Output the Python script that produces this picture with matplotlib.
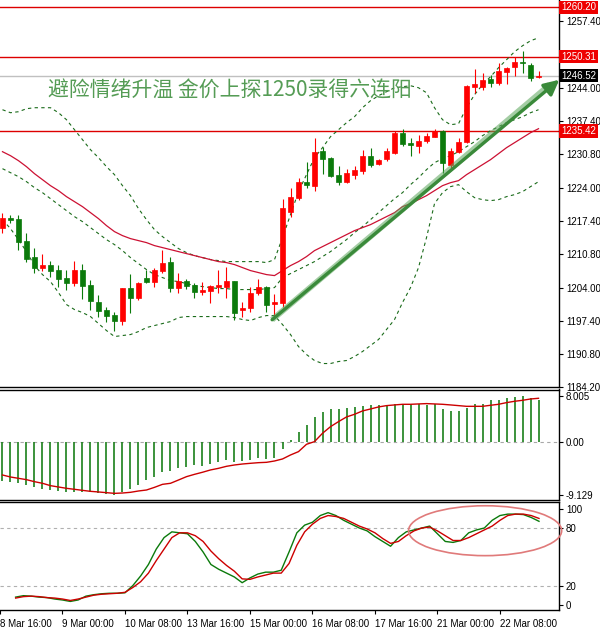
import numpy as np
import matplotlib
matplotlib.use('Agg')
import matplotlib.pyplot as plt
from matplotlib.patches import Ellipse
from matplotlib.transforms import blended_transform_factory

plt.rcParams['font.family'] = ['Liberation Sans', 'DejaVu Sans']

# ---------------------------------------------------------------------
# Data (H4 gold, 68 bars)
# ---------------------------------------------------------------------
opens = [1216.0, 1218.0, 1217.9, 1213.5, 1210.2, 1208.1, 1208.6, 1207.6, 1206.1, 1205.1,
         1207.7, 1204.7, 1201.3, 1199.7, 1198.7, 1197.5, 1204.0, 1202.1, 1206.0, 1205.3,
         1207.5, 1209.3, 1204.0, 1205.5, 1204.7, 1203.3, 1203.5, 1204.3, 1204.3, 1205.5,
         1199.7, 1200.0, 1203.0, 1204.3, 1200.8, 1201.1, 1219.3, 1222.0, 1225.3, 1224.5,
         1231.5, 1230.0, 1226.7, 1225.3, 1226.7, 1227.5, 1230.5, 1228.8, 1229.8, 1231.1,
         1235.0, 1233.1, 1232.5, 1233.5, 1234.3, 1235.5, 1228.7, 1231.3, 1233.3, 1244.3,
         1244.3, 1245.8, 1245.0, 1247.3, 1248.2, 1249.2, 1248.7, 1246.2]
highs = [1219.0, 1218.7, 1218.7, 1215.0, 1212.0, 1210.9, 1209.5, 1208.6, 1207.7, 1209.5,
         1208.8, 1205.7, 1202.6, 1200.2, 1199.3, 1204.1, 1206.9, 1205.3, 1207.7, 1208.0,
         1211.7, 1210.2, 1207.0, 1205.8, 1205.1, 1205.3, 1204.7, 1207.7, 1208.3, 1205.5,
         1201.2, 1204.3, 1205.8, 1204.5, 1202.9, 1221.8, 1224.0, 1226.0, 1229.3, 1234.0,
         1232.3, 1230.2, 1228.5, 1227.8, 1228.5, 1231.7, 1232.0, 1229.8, 1232.0, 1235.5,
         1235.8, 1234.0, 1234.7, 1235.1, 1235.8, 1235.7, 1232.1, 1234.0, 1244.7, 1247.8,
         1247.0, 1246.7, 1249.1, 1248.2, 1250.3, 1251.5, 1249.0, 1247.5]
lows = [1215.1, 1217.1, 1211.7, 1209.2, 1207.1, 1207.5, 1206.3, 1204.3, 1203.7, 1204.5,
        1201.9, 1199.7, 1198.2, 1197.3, 1195.5, 1196.7, 1199.1, 1201.7, 1205.1, 1204.2,
        1207.0, 1203.3, 1203.0, 1203.8, 1202.0, 1202.7, 1201.1, 1203.1, 1202.0, 1197.7,
        1198.2, 1199.3, 1202.7, 1199.3, 1198.2, 1200.3, 1218.3, 1221.7, 1224.0, 1223.5,
        1226.8, 1226.2, 1224.7, 1225.0, 1225.8, 1226.9, 1228.3, 1228.7, 1229.5, 1230.9,
        1232.5, 1230.5, 1231.1, 1233.1, 1234.2, 1227.1, 1227.9, 1231.0, 1233.1, 1243.1,
        1243.7, 1244.2, 1244.7, 1244.8, 1246.5, 1247.1, 1245.5, 1246.0]
closes = [1218.0, 1217.7, 1213.3, 1209.9, 1208.1, 1208.7, 1207.5, 1205.9, 1205.1, 1207.7,
          1204.5, 1201.5, 1199.5, 1198.5, 1197.5, 1204.0, 1202.0, 1205.0, 1205.3, 1207.7,
          1209.1, 1204.0, 1205.5, 1204.5, 1203.3, 1203.7, 1204.5, 1204.5, 1205.5, 1199.1,
          1200.1, 1203.1, 1204.2, 1200.7, 1201.3, 1220.0, 1222.2, 1225.3, 1224.7, 1231.2,
          1229.8, 1226.5, 1225.3, 1227.0, 1227.7, 1230.5, 1228.7, 1229.7, 1231.5, 1235.1,
          1232.9, 1232.7, 1233.5, 1234.5, 1235.5, 1229.0, 1231.5, 1233.3, 1244.5, 1244.9,
          1245.7, 1245.1, 1247.5, 1248.1, 1249.3, 1249.0, 1246.0, 1246.52]

bb_upper = [1239.7, 1239.1, 1239.3, 1239.9, 1240.1, 1240.1, 1240.1, 1239.1, 1237.7, 1235.7,
            1233.7, 1231.7, 1230.1, 1228.3, 1226.7, 1224.5, 1222.5, 1219.9, 1217.7, 1215.7,
            1214.3, 1213.1, 1211.9, 1211.1, 1210.5, 1210.1, 1209.7, 1209.5, 1209.3, 1209.3,
            1209.3, 1209.3, 1209.3, 1209.1, 1209.7, 1214.1, 1218.7, 1223.3, 1226.7, 1230.1,
            1232.1, 1234.3, 1235.7, 1237.1, 1238.3, 1240.1, 1241.5, 1242.5, 1243.3, 1244.1,
            1244.3, 1244.5, 1244.1, 1243.1, 1240.1, 1237.7, 1236.7, 1236.9, 1240.1, 1242.7,
            1244.7, 1246.3, 1248.1, 1249.7, 1251.3, 1252.5, 1253.5, 1254.1]
bb_mid = [1227.9, 1227.1, 1226.3, 1225.3, 1224.1, 1223.1, 1221.9, 1220.7, 1219.5, 1218.3,
          1217.3, 1216.1, 1214.9, 1213.7, 1212.7, 1211.5, 1210.1, 1208.9, 1207.7, 1206.7,
          1206.1, 1205.5, 1205.3, 1204.9, 1204.5, 1204.3, 1204.1, 1203.9, 1203.9, 1203.7,
          1203.7, 1203.7, 1203.7, 1203.9, 1204.1, 1206.1, 1206.9, 1207.7, 1208.5, 1209.3,
          1210.3, 1211.3, 1212.5, 1213.7, 1215.1, 1216.3, 1217.7, 1219.1, 1220.5, 1221.9,
          1223.1, 1224.7, 1226.1, 1227.7, 1229.1, 1229.9, 1230.5, 1231.3, 1232.3, 1233.3,
          1234.5, 1235.5, 1236.3, 1237.1, 1237.7, 1238.3, 1239.1, 1239.7]
bb_lower = [1217.7, 1215.9, 1213.7, 1211.3, 1208.5, 1206.7, 1205.3, 1203.1, 1200.7, 1199.7,
            1199.1, 1198.3, 1196.9, 1195.5, 1194.3, 1194.5, 1194.7, 1195.3, 1196.1, 1196.5,
            1196.9, 1197.3, 1198.1, 1198.3, 1198.3, 1198.3, 1198.3, 1198.3, 1198.3, 1198.1,
            1197.7, 1197.5, 1198.1, 1198.5, 1198.5, 1196.7, 1194.7, 1192.3, 1190.7, 1189.5,
            1188.9, 1188.9, 1189.3, 1189.5, 1190.3, 1191.3, 1192.5, 1193.7, 1195.7, 1197.7,
            1201.1, 1204.1, 1208.1, 1214.1, 1220.9, 1223.1, 1224.3, 1224.7, 1223.3, 1222.1,
            1221.7, 1221.5, 1221.7, 1222.3, 1222.7, 1223.3, 1224.3, 1225.3]
ma_line = [1231.3, 1230.5, 1229.5, 1228.3, 1226.9, 1225.7, 1224.5, 1223.5, 1222.3, 1221.3,
           1220.3, 1219.1, 1217.9, 1216.5, 1215.3, 1214.5, 1213.9, 1213.5, 1213.1, 1212.5,
           1212.1, 1211.7, 1211.3, 1210.9, 1210.5, 1210.1, 1209.7, 1209.3, 1209.1, 1208.7,
           1208.1, 1207.5, 1207.1, 1206.7, 1206.5, 1207.5, 1208.5, 1209.3, 1210.3, 1211.5,
           1212.3, 1213.1, 1213.9, 1214.7, 1215.5, 1216.1, 1216.7, 1217.5, 1218.3, 1219.1,
           1220.3, 1220.9, 1221.7, 1222.5, 1223.5, 1224.5, 1225.1, 1225.5, 1226.7, 1227.7,
           1228.7, 1229.7, 1230.9, 1232.1, 1233.1, 1234.1, 1235.1, 1235.9]

macd_hist = [-6.65, -6.83, -7.0, -7.4, -7.69, -8.15, -8.27, -8.44, -8.56, -8.67,
             -8.67, -8.67, -8.85, -8.96, -9.129, -8.56, -8.1, -7.4, -6.54, -5.96,
             -5.1, -4.98, -4.52, -4.23, -3.94, -4.06, -3.77, -3.37, -3.08, -3.37,
             -3.25, -3.08, -2.79, -2.9, -2.79, -1.17, 0.39, 1.71, 2.98, 4.43,
             5.29, 5.75, 5.75, 5.87, 6.16, 6.33, 6.45, 6.45, 6.45, 6.56,
             6.68, 6.56, 6.62, 6.45, 6.68, 5.75, 5.4, 5.4, 5.98, 6.56,
             6.68, 7.31, 7.31, 7.6, 7.83, 8.005, 7.71, 7.31]
macd_signal = [-5.67, -6.02, -6.25, -6.48, -6.83, -7.11, -7.52, -7.75, -7.98, -8.15,
               -8.33, -8.5, -8.61, -8.73, -8.85, -8.79, -8.67, -8.44, -8.27, -7.81,
               -7.29, -7.11, -6.54, -5.96, -5.56, -5.2, -4.8, -4.52, -4.17, -3.94,
               -3.77, -3.65, -3.54, -3.48, -3.25, -2.9, -2.21, -1.63, -0.36, 0.1,
               1.54, 2.69, 3.56, 4.37, 4.83, 5.41, 5.75, 6.1, 6.33, 6.45,
               6.56, 6.56, 6.62, 6.68, 6.62, 6.56, 6.45, 6.33, 6.21, 6.21,
               6.21, 6.39, 6.56, 6.85, 7.08, 7.25, 7.48, 7.6]

stoch_k = [8, 9.5, 9, 8, 7.5, 6, 5, 3.5, 5, 9,
           10.5, 11.5, 12, 12, 12.5, 20, 30, 42, 58, 70,
           76, 75, 74, 66, 55, 42, 37, 33, 29, 23,
           28, 32, 34, 34, 36, 55, 75, 83, 86, 93,
           96, 93, 88, 84, 80, 77, 71, 66, 61, 70,
           76, 78, 80, 82, 74, 66, 65, 67, 75, 78,
           80, 88, 93, 94.5, 94.5, 94, 91, 87]
stoch_d = [7, 8.5, 9, 8.5, 7.5, 7, 6, 4.5, 6, 8,
           10, 11, 11.5, 12, 13, 18, 24, 33, 46, 58,
           70, 75, 75, 72, 66, 56, 48, 41, 35, 27,
           26.5, 29, 31, 33, 33, 43, 62, 76, 84, 90,
           93, 92, 90, 86, 82, 79, 75, 69, 64, 66,
           72, 77, 80, 81, 77, 72, 67, 67, 70, 74,
           78, 82, 88, 93, 94.5, 94.5, 93, 90]

date_bars = [-2, 6, 14, 22, 30, 38, 46, 54, 62]
date_labels = ['8 Mar 16:00', '9 Mar 00:00', '10 Mar 08:00', '13 Mar 16:00',
               '15 Mar 00:00', '16 Mar 08:00', '17 Mar 16:00', '21 Mar 00:00',
               '22 Mar 08:00']

price_ticks = [1257.40, 1244.00, 1237.40, 1230.80, 1224.00, 1217.40,
               1210.80, 1204.00, 1197.40, 1190.80, 1184.20]
red_levels = [1260.20, 1250.31, 1235.42]
last_price = 1246.52

title = '避险情绪升温 金价上探1250录得六连阳'

UP = '#ff0000'
DOWN = '#0b7a0b'
BAND = '#1a6b1a'
MA_RED = '#cc1133'

W, H = 600, 631
RIGHT = 559  # x pixel of the price scale


def px_axes(fig, top, bottom):
    return fig.add_axes([0, 1 - bottom / H, RIGHT / W, (bottom - top) / H])


def style_axes(ax):
    ax.set_xlim(-0.31, 69.56)
    ax.spines['left'].set_visible(False)
    ax.yaxis.tick_right()
    ax.tick_params(axis='y', direction='out', length=3, width=0.8, pad=2,
                   labelsize=7)
    ax.tick_params(axis='x', bottom=False, labelbottom=False)
    for s in ax.spines.values():
        s.set_linewidth(1.0)


fig = plt.figure(figsize=(W / 100, H / 100), dpi=100)

######################################################################
# Price panel
######################################################################
ax = px_axes(fig, 0, 387)
style_axes(ax)
ax.spines['top'].set_visible(False)
ax.set_ylim(1184.26, 1261.66)

x = np.arange(len(closes))
o = np.array(opens)
c = np.array(closes)
colors = [UP if cc >= oo else DOWN for oo, cc in zip(o, c)]

ax.vlines(x, lows, highs, colors=colors, linewidth=0.8, zorder=3)
body_lo = np.minimum(o, c)
body_h = np.maximum(np.abs(c - o), 0.25)
ax.bar(x, body_h, bottom=body_lo, width=0.62, color=colors,
       edgecolor=colors, linewidth=0.5, zorder=4)

dash = (0, (3, 3))
ax.plot(x, bb_upper, color=BAND, lw=0.8, ls=dash, zorder=2)
ax.plot(x, bb_mid, color=BAND, lw=0.8, ls=dash, zorder=2)
ax.plot(x, bb_lower, color=BAND, lw=0.8, ls=dash, zorder=2)
ax.plot(x, ma_line, color=MA_RED, lw=0.9, zorder=2)

for lvl in red_levels:
    ax.axhline(lvl, color='#dd0000', lw=1.0, zorder=1)
ax.axhline(last_price, color='#c0c0c0', lw=1.0, zorder=1)

ax.set_yticks(price_ticks)
ax.set_yticklabels(['%.2f' % t for t in price_ticks])

trans = blended_transform_factory(ax.transAxes, ax.transData)
for lvl, bg in [(1260.20, '#ee0000'), (1250.31, '#ee0000'),
                (last_price, '#000000'), (1235.42, '#ee0000')]:
    ax.text(1.004, lvl, '%.2f' % lvl, transform=trans, ha='left', va='center',
            color='white', fontsize=7, clip_on=False, zorder=10,
            bbox=dict(boxstyle='square,pad=0.18', fc=bg, ec='none'))

# trend arrow
ax.plot([33.7, 68.4], [1197.66, 1244.7], color='#5aa55a', lw=4.2, alpha=0.55,
        solid_capstyle='butt', zorder=5, clip_on=False)
ax.annotate('', xy=(69.6, 1245.7), xytext=(33.7, 1197.66),
            arrowprops=dict(arrowstyle='-|>,head_length=0.9,head_width=0.45',
                            color='#3a8a3a', lw=2.4, shrinkA=0, shrinkB=0),
            annotation_clip=False, zorder=6)

fig.text(48 / W, 1 - 91 / H, title, ha='left', va='center', fontsize=15,
         color='#559c55', family=['Noto Sans CJK SC', 'DejaVu Sans'])

######################################################################
# MACD panel
######################################################################
ax2 = px_axes(fig, 389.5, 500)
style_axes(ax2)
ax2.set_ylim(-10.0, 9.12)
ax2.vlines(x, 0, macd_hist, colors='#1a801a', linewidth=1.2)
ax2.plot(x, macd_signal, color='#cc0000', lw=1.0)
ax2.axhline(0, color='#a8a8a8', lw=0.8, ls=dash, zorder=0)
ax2.set_yticks([8.005, 0, -9.129])
ax2.set_yticklabels(['8.005', '0.00', '-9.129'])

######################################################################
# Stochastic panel
######################################################################
ax3 = px_axes(fig, 502.3, 610.4)
style_axes(ax3)
ax3.set_ylim(-5.85, 106.8)
ax3.axhline(80, color='#b0b0b0', lw=0.8, ls=dash, zorder=0)
ax3.axhline(20, color='#b0b0b0', lw=0.8, ls=dash, zorder=0)
ax3.plot(x, stoch_k, color='#0b7a0b', lw=1.0)
ax3.plot(x, stoch_d, color='#cc0000', lw=1.0)
ax3.set_yticks([100, 80, 20, 0])
ax3.set_yticklabels(['100', '80', '20', '0'])

ax3.tick_params(axis='x', bottom=True, labelbottom=True, direction='out',
                length=3, width=0.8, pad=3, labelsize=7)
ax3.set_xticks(date_bars)
ax3.set_xticklabels(date_labels, ha='left')

ax3.add_patch(Ellipse((60.1, 77.2), 19.6, 52, fill=False, ec='#e07a7a',
                      lw=1.2, clip_on=False, zorder=6))

fig.savefig('out.png', dpi=100)
